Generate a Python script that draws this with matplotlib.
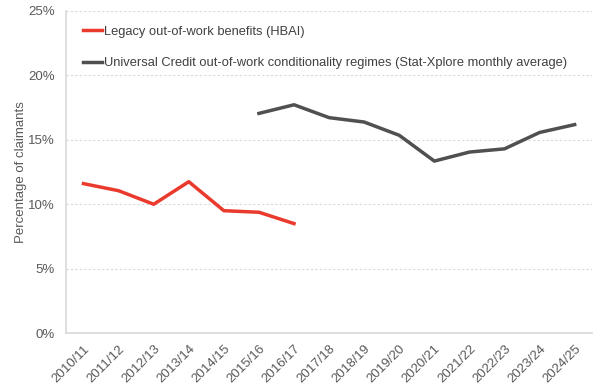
import numpy as np
import matplotlib
matplotlib.use('Agg')
import matplotlib.pyplot as plt
from matplotlib.ticker import FuncFormatter

years = ['2010/11', '2011/12', '2012/13', '2013/14', '2014/15', '2015/16', '2016/17',
         '2017/18', '2018/19', '2019/20', '2020/21', '2021/22', '2022/23', '2023/24', '2024/25']
legacy = [11.6, 11.05, 10.0, 11.75, 9.5, 9.38, 8.5]
uc = [17.05, 17.72, 16.72, 16.38, 15.35, 13.35, 14.05, 14.3, 15.57, 16.18]

plt.rcParams['font.family'] = ['Liberation Sans', 'DejaVu Sans']

fig = plt.figure(figsize=(6, 3.91), dpi=100)
ax = fig.add_axes([0.11, 0.148, 0.877, 0.824])

xpos = np.arange(len(years))
ax.plot(xpos[:len(legacy)], legacy, color='#ea3a2d', lw=2.5, label='Legacy out-of-work benefits (HBAI)')
ax.plot(xpos[5:5 + len(uc)], uc, color='#505050', lw=2.5,
        label='Universal Credit out-of-work conditionality regimes (Stat-Xplore monthly average)')

ax.set_xlim(-0.5, len(years) - 0.5)
ax.set_ylim(0, 25)
ax.set_yticks(range(0, 26, 5))
ax.yaxis.set_major_formatter(FuncFormatter(lambda v, p: f'{v:.0f}%'))
ax.set_xticks(xpos)
ax.set_xticklabels(years, rotation=45, ha='right', rotation_mode='anchor')
ax.tick_params(axis='both', length=0, labelsize=9.5, colors='#595959')
ax.tick_params(axis='x', pad=7)
ax.tick_params(axis='y', pad=8)

ax.grid(axis='y', color='#d9d9d9', linestyle=(0, (2, 2)), lw=0.8)
ax.set_axisbelow(True)
for s in ['top', 'right']:
    ax.spines[s].set_visible(False)
for s in ['left', 'bottom']:
    ax.spines[s].set_color('#d9d9d9')
    ax.spines[s].set_linewidth(1.2)

ax.set_ylabel('Percentage of claimants', fontsize=9.5, color='#595959', labelpad=1)

ax.legend(loc='upper left', bbox_to_anchor=(0.01, 0.99), frameon=False, fontsize=9.3,
          handlelength=1.5, handletextpad=0.15, labelspacing=1.5, labelcolor='#404040')

fig.savefig('out.png', dpi=100)
